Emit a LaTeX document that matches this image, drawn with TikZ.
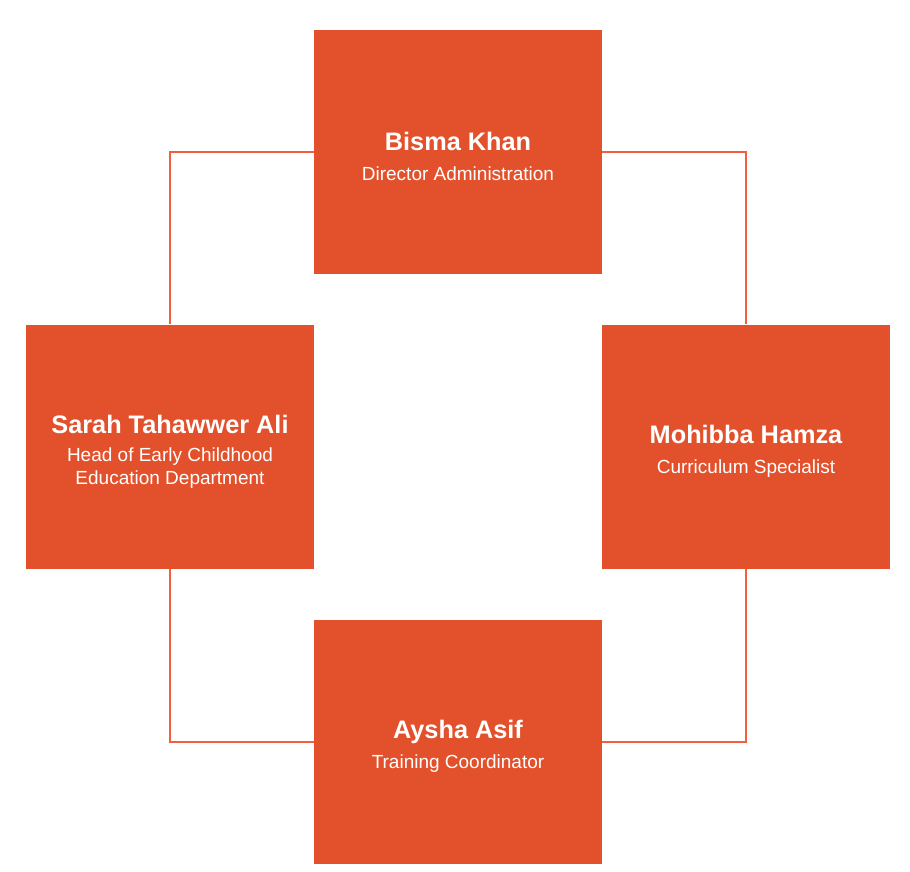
\documentclass[tikz,border=0pt]{standalone}
\usepackage{fontspec}
\setmainfont{Liberation Sans}
\usetikzlibrary{positioning}
\definecolor{boxfill}{HTML}{E2512C}
\definecolor{linkline}{HTML}{F0603F}
\tikzset{
  person/.style={fill=boxfill,draw=none,minimum width=288pt,minimum height=244pt,align=center,text=white,inner sep=4pt,
    font=\fontsize{19}{23}\selectfont},
  link/.style={draw=linkline,line width=2pt}
}
% the strut pushes each text block a little below the box centre
\newcommand{\personname}[1]{{\fontsize{25.3}{30}\selectfont\bfseries\rule{0pt}{28pt}#1}}

\begin{document}
\begin{tikzpicture}[x=1pt,y=-1pt]
  \useasboundingbox[fill=white] (0,0) rectangle (910,872);

  \node[person] (bisma) at (458,152) {
    \personname{Bisma Khan}\\[7pt]
    Director Administration
  };
  \node[person] (sarah) at (170,446.5) {
    \personname{Sarah Tahawwer Ali}\\[5pt]
    Head of Early Childhood\\
    Education Department
  };
  \node[person] (mohibba) at (746,446.5) {
    \personname{Mohibba Hamza}\\[7pt]
    Curriculum Specialist
  };
  \node[person] (aysha) at (458,741.5) {
    \personname{Aysha Asif}\\[7pt]
    Training Coordinator
  };

  \draw[link] (bisma.west) -| (sarah.north);
  \draw[link] (bisma.east) -| (mohibba.north);
  \draw[link] (sarah.south) |- (aysha.west);
  \draw[link] (mohibba.south) |- (aysha.east);
\end{tikzpicture}
\end{document}
